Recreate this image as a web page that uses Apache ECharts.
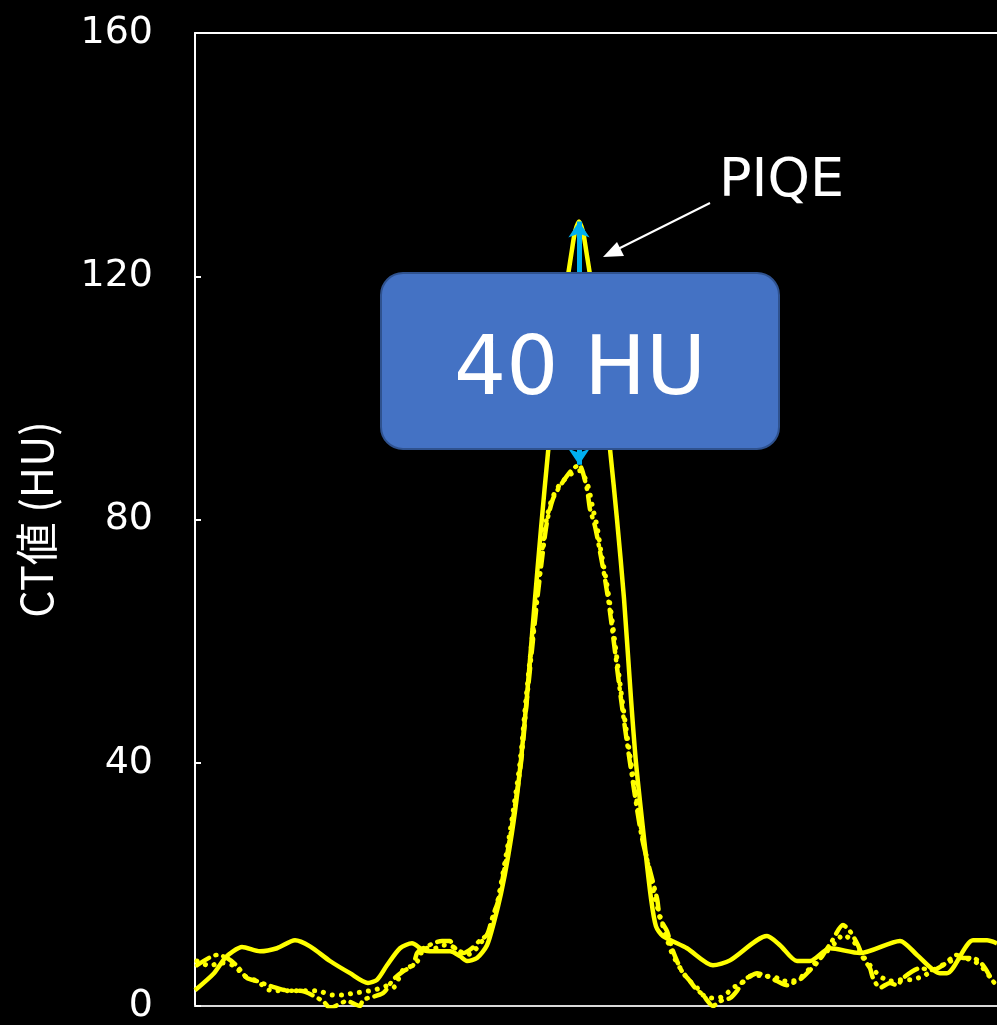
<!DOCTYPE html>
<html>
<head>
<meta charset="utf-8">
<script src="https://cdn.jsdelivr.net/npm/echarts@6/dist/echarts.min.js"></script>
<style>
  html, body { margin: 0; padding: 0; background: #000; }
  #chart { width: 997px; height: 1025px; }
</style>
</head>
<body>
<div id="chart"></div>
<script>
// Profile position (mm) and CT value (HU) for each reconstruction
const yTicks = [0, 40, 80, 120, 160];

const piqe = [
  [0, 2.6], [0.95, 5.4], [1.5, 7.9], [1.9, 9.0], [2.35, 9.7], [3.25, 9.0], [4.1, 9.5],
  [5.0, 10.8], [5.75, 9.8], [6.75, 7.4], [7.75, 5.4], [8.65, 3.8], [9.1, 4.3], [9.6, 6.7],
  [10.25, 9.5], [10.85, 10.3], [11.4, 9.2], [11.9, 9.0], [12.75, 9.0], [13.25, 8.2],
  [13.6, 7.4], [14.1, 7.9], [14.6, 10.0], [14.95, 13.8], [15.3, 18.5], [15.65, 24.5],
  [16.0, 32.0], [16.3, 40.5], [16.6, 51.0], [16.95, 65.0], [17.3, 78.5], [17.65, 91.0],
  [18.05, 103.1], [18.48, 116.2], [18.85, 124.4], [19.0, 127.3], [19.2, 129], [19.4, 127.3],
  [19.55, 124.4], [19.93, 116.2], [20.35, 103.1], [20.75, 91.6], [21.1, 80.0],
  [21.45, 67.0], [21.8, 50.5], [22.05, 40.0], [22.45, 27.6], [22.8, 17.7], [23.05, 13.1],
  [23.4, 11.5], [24.6, 9.5], [25.9, 6.7], [26.75, 7.5], [28.6, 11.5], [29.25, 10.0],
  [30.1, 7.4], [30.75, 7.4], [31.75, 9.5], [33.25, 8.7], [35.25, 10.7], [36.1, 8.4],
  [37.25, 5.4], [37.6, 5.4], [38.9, 10.8], [39.6, 10.8], [40.1, 10.3]
];

const dashDot = [
  [0.1, 6.7], [1.1, 8.4], [1.6, 7.9], [2.1, 6.6], [2.6, 4.6], [3.1, 4.1], [3.75, 3.3],
  [4.75, 2.5], [5.25, 2.5], [6.4, 0.8], [6.75, -0.3], [7.6, 0.8], [8.25, 0], [8.4, 1.0],
  [9.4, 2.1], [9.9, 4.3], [10.4, 5.7], [10.9, 6.7], [11.1, 8.7], [11.4, 9.5], [12.35, 10.7],
  [12.75, 10.7], [12.9, 9.8], [13.4, 8.7], [13.85, 9.5], [14.25, 10.8], [14.6, 11.7],
  [14.9, 14.9], [15.15, 17.2], [15.75, 27.6], [16.3, 40.0], [16.6, 50.5], [17.1, 66.5],
  [17.35, 73.5], [17.6, 79.6], [17.9, 83.4], [18.25, 85.5], [18.8, 88.0], [19.2, 89],
  [19.6, 85.0], [19.75, 81.7], [20.0, 78.9], [20.25, 74.7], [20.5, 70.2], [20.75, 64.8],
  [21.3, 50.5], [21.75, 40.0], [22.35, 27.6], [23.1, 17.7], [23.25, 14.4], [23.6, 12.3],
  [23.85, 9.5], [24.1, 7.4], [24.35, 5.7], [24.75, 4.1], [25.0, 3.0], [25.4, 1.8],
  [25.9, 0], [26.25, 0.8], [26.75, 1.3], [27.1, 2.5], [27.4, 4.1], [27.75, 4.9],
  [28.1, 5.4], [28.6, 4.9], [29.1, 4.1], [29.6, 3.4], [29.9, 3.8], [30.35, 4.6],
  [30.75, 5.9], [31.1, 7.1], [31.4, 8.4], [31.85, 10.7], [32.4, 13.3], [32.75, 12.3],
  [33.15, 10.0], [33.4, 7.9], [33.75, 6.2], [33.9, 4.6], [34.25, 3.0], [34.75, 3.8],
  [35.1, 3.4], [35.4, 4.6], [36.25, 6.2], [36.9, 5.9], [37.4, 6.7], [38.1, 8.4],
  [38.4, 7.9], [38.9, 7.9], [39.4, 6.7], [39.85, 4.3], [40.1, 3.3]
];

const dotted = [
  [0.1, 7.4], [0.75, 6.6], [1.25, 7.1], [1.9, 6.7], [2.5, 4.9], [3.1, 4.1], [3.75, 2.6],
  [4.75, 2.5], [5.4, 2.5], [6.1, 2.5], [6.9, 1.8], [7.4, 1.8], [7.9, 2.1], [8.35, 2.3],
  [8.75, 2.5], [9.15, 2.8], [9.6, 3.3], [9.9, 3.0], [10.4, 5.9], [10.9, 6.7], [11.25, 7.9],
  [11.4, 9.5], [12.0, 9.5], [12.4, 10.0], [12.85, 9.8], [13.25, 9.0], [13.6, 8.4],
  [14.0, 9.2], [14.25, 10.3], [14.6, 11.5], [14.85, 13.9], [15.1, 16.6], [15.7, 27.6],
  [16.25, 40.0], [16.55, 50.5], [17.05, 66.5], [17.3, 73.5], [17.55, 79.6], [17.85, 83.4],
  [18.25, 85.8], [18.8, 87.5], [19.25, 88.0], [19.65, 85.5], [19.9, 81.7], [20.1, 78.9],
  [20.3, 74.7], [20.55, 70.2], [20.8, 64.8], [21.35, 50.5], [21.8, 40.0], [22.4, 27.6],
  [23.0, 17.7], [23.75, 9.5], [24.1, 7.1], [24.6, 4.6], [25.1, 3.0], [25.4, 1.8],
  [25.75, 1.3], [26.15, 1.3], [26.6, 2.1], [26.9, 3.0], [27.35, 3.8], [27.9, 5.1],
  [28.6, 4.9], [28.9, 4.9], [29.4, 4.1], [29.85, 4.1], [30.25, 4.6], [30.6, 5.7],
  [30.9, 6.7], [31.1, 7.5], [31.6, 9.0], [32.1, 10.7], [32.4, 11.7], [33.0, 10.3],
  [33.4, 8.2], [33.75, 6.7], [34.25, 4.9], [34.75, 4.1], [35.25, 4.3], [35.75, 4.3],
  [36.4, 4.9], [36.9, 5.9], [37.6, 7.1], [38.25, 7.9], [38.9, 7.5], [39.4, 6.2], [39.9, 4.1]
];

// Peak-to-peak difference marked by the cyan arrow
const peakX = 19.2;
const peakHigh = 129;
const peakLow = 89;
const diffLabel = '40 HU';
const seriesLabel = 'PIQE';
const yName = 'CT値 (HU)';

const YELLOW = '#FFFF00';
const chart = echarts.init(document.getElementById('chart'), null, { renderer: 'canvas' });

const option = {
  backgroundColor: '#000000',
  animation: false,
  grid: { left: 195, right: 0, top: 33, bottom: 17, containLabel: false },
  xAxis: [
    {
      type: 'value', min: 0, max: 40.1, position: 'bottom',
      axisLine: { show: true, lineStyle: { color: '#D9D9D9', width: 2 } },
      axisTick: { show: false }, axisLabel: { show: false }, splitLine: { show: false }
    },
    {
      type: 'value', min: 0, max: 40.1, position: 'top',
      axisLine: { show: true, lineStyle: { color: '#FFFFFF', width: 2 } },
      axisTick: { show: false }, axisLabel: { show: false }, splitLine: { show: false }
    }
  ],
  yAxis: {
    type: 'value', min: yTicks[0], max: yTicks[yTicks.length - 1], interval: 40,
    name: yName, nameLocation: 'middle', nameGap: 137,
    nameTextStyle: { color: '#FFFFFF', fontSize: 43, fontFamily: '"Noto Sans CJK JP", "DejaVu Sans", sans-serif' },
    axisLine: { show: true, lineStyle: { color: '#FFFFFF', width: 2 } },
    axisTick: { show: true, inside: true, length: 6, lineStyle: { color: '#FFFFFF', width: 2 } },
    axisLabel: { color: '#FFFFFF', fontSize: 38, margin: 42, fontFamily: '"DejaVu Sans", sans-serif' },
    splitLine: { show: false }
  },
  series: [
    {
      name: 'dotted', type: 'line', data: dotted, smooth: 0.25, symbol: 'none', z: 2,
      lineStyle: { color: YELLOW, width: 5, type: [0.1, 9], cap: 'round' }
    },
    {
      name: 'dashDot', type: 'line', data: dashDot, smooth: 0.25, symbol: 'none', z: 3,
      lineStyle: { color: YELLOW, width: 4.5, type: [14, 7, 1, 7], cap: 'round' }
    },
    {
      name: seriesLabel, type: 'line', data: piqe, smooth: 0.25, symbol: 'none', z: 4,
      lineStyle: { color: YELLOW, width: 4.5 },
      markLine: {
        silent: true, symbol: ['arrow', 'arrow'], symbolSize: [16, 16],
        label: { show: false },
        lineStyle: { color: '#00B0F0', width: 5, type: 'solid' },
        data: [[{ coord: [peakX, peakHigh] }, { coord: [peakX, peakLow] }]]
      }
    }
  ],
  graphic: [
    {
      type: 'rect', z: 100,
      shape: { x: 381, y: 273, width: 398, height: 176, r: 22 },
      style: { fill: '#4472C4', stroke: '#2F528F', lineWidth: 2 }
    },
    {
      type: 'text', z: 101, x: 580, y: 373,
      style: { text: diffLabel, fill: '#FFFFFF', font: '82px "DejaVu Sans", sans-serif', align: 'center', verticalAlign: 'middle' }
    },
    {
      type: 'text', z: 101, x: 719, y: 182,
      style: { text: seriesLabel, fill: '#FFFFFF', font: '54px "DejaVu Sans", sans-serif', align: 'left', verticalAlign: 'middle' }
    },
    {
      type: 'line', z: 101,
      shape: { x1: 710, y1: 203, x2: 614, y2: 251 },
      style: { stroke: '#FFFFFF', lineWidth: 2 }
    },
    {
      type: 'polygon', z: 101,
      shape: { points: [[603, 257], [617, 242], [624, 256]] },
      style: { fill: '#FFFFFF' }
    }
  ]
};

chart.setOption(option);
</script>
</body>
</html>
